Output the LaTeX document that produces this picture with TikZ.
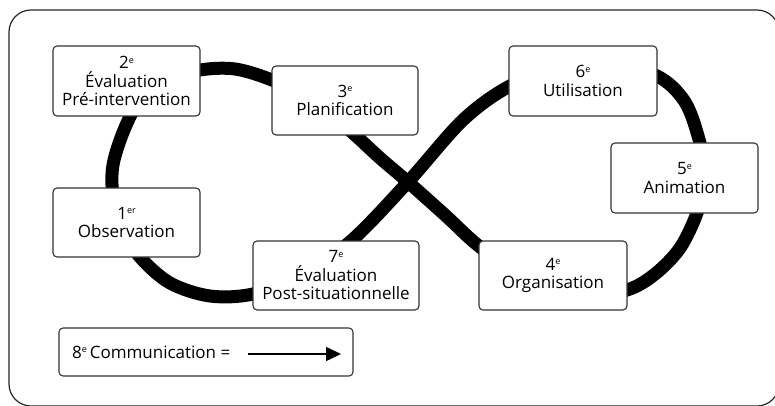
\documentclass[tikz,border=0pt]{standalone}
\usepackage{fontspec}
\setmainfont{Open Sans}
\usetikzlibrary{arrows.meta}
\newcommand{\ordsup}[1]{\raisebox{5.5pt}{\fontsize{9}{9}\selectfont #1}}
\begin{document}
\begin{tikzpicture}[x=1pt,y=-1pt,
  box/.style={draw=black!80, line width=1.1pt, rounded corners=4pt, fill=white,
    align=center, inner sep=0pt, font=\fontsize{17}{18.5}\selectfont},
  loopline/.style={line width=13pt, line join=round, black}]
\useasboundingbox (0,0) rectangle (775,406);
\begin{scope}
\clip (0,0) rectangle (775,406);
\draw[black!85, line width=1.2pt, rounded corners=22pt] (9,10) rectangle (779,406);
\end{scope}
% figure-eight curve
\draw[loopline] plot[smooth cycle, tension=0.55] coordinates {
 (408,182) (380,158) (355,135) (315,100) (272,80) (235,69) (200,70) (165,80)
 (140,100) (124,130) (113,165) (113,195) (122,228) (140,257) (170,283) (210,296)
 (253,294) (300,276) (351,241) (408,182) (463,120) (510,86) (560,69) (610,66)
 (657,76) (685,102) (700,143) (706,178) (697,213) (680,248) (655,274) (627,290)
 (580,298) (530,282) (480,247) (445,215)};
% boxes
\node[box, minimum width=147pt, minimum height=70pt] (n2) at (126.5,81) {2\ordsup{e}\\Évaluation\\Pré-intervention};
\node[box, minimum width=146pt, minimum height=69pt] (n3) at (345,100.5) {3\ordsup{e}\\Planification};
\node[box, minimum width=148pt, minimum height=70pt] (n6) at (583,81) {6\ordsup{e}\\Utilisation};
\node[box, minimum width=147pt, minimum height=70pt] (n5) at (684.5,178) {5\ordsup{e}\\Animation};
\node[box, minimum width=147pt, minimum height=69pt] (n1) at (126.5,222.5) {1\ordsup{er}\\Observation};
\node[box, minimum width=166pt, minimum height=69pt] (n7) at (336,275.5) {7\ordsup{e}\\Évaluation\\Post-situationnelle};
\node[box, minimum width=148pt, minimum height=69pt] (n4) at (553,275.5) {4\ordsup{e}\\Organisation};
\node[box, minimum width=294pt, minimum height=48pt] (n8) at (206,352) {};
\node[anchor=base west, inner sep=0pt, font=\fontsize{17}{18.5}\selectfont] (t8) at (72,358) {8\ordsup{e}\,Communication =};
\coordinate (a1) at (248,354);
\coordinate (a2) at (341,354);
\draw[line width=1.5pt, -{Triangle[length=15pt,width=14pt]}] (a1) -- (a2);
\end{tikzpicture}
\end{document}
